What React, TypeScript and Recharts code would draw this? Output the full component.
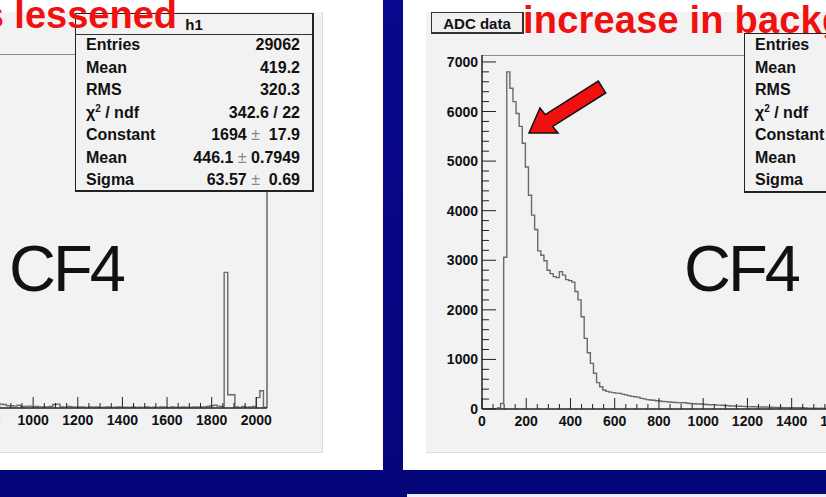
import React from 'react'
import { LineChart, Line, XAxis, YAxis, ReferenceArea } from 'recharts'

const FONT = '"Liberation Sans", Arial, Helvetica, sans-serif'

// left pad: only the top end of the spectrum is on the slide
const leftBinStart = 832
const leftBinWidth = 16
const leftCounts = [
  15, 20, 18, 12, 12, 10, 14, 8, 8, 10,
  6, 8, 6, 5, 6, 8, 18, 20, 6, 4,
  8, 5, 4, 6, 5, 3, 6, 4, 5, 3,
  4, 6, 3, 4, 5, 3, 4, 3, 5, 3,
  4, 3, 5, 3, 4, 3, 6, 4, 3, 5,
  4, 3, 5, 4, 3, 6, 4, 5, 6, 8,
  12, 14, 10, 8, 709, 69, 69, 5, 3, 8,
  4, 6, 8, 54, 90, 4,
]
const leftYMax = 1850

// right pad: ADC data
const rightBinWidth = 14
const rightCounts = [
  0, 0, 0, 0, 0, 20, 110, 3060, 6800, 6470,
  6200, 5960, 5700, 5360, 4880, 4310, 3910, 3620, 3190, 3100,
  2990, 2800, 2730, 2670, 2650, 2770, 2700, 2610, 2590, 2560,
  2370, 2200, 1860, 1425, 1136, 921, 720, 531, 450, 383,
  355, 340, 330, 320, 316, 300, 285, 270, 255, 248,
  240, 215, 205, 190, 181, 175, 165, 160, 150, 148,
  140, 135, 130, 128, 125, 128, 115, 110, 105, 100,
  100, 95, 90, 85, 88, 80, 78, 75, 70, 65,
  62, 60, 58, 55, 52, 48, 47, 45, 44, 42,
  40, 40, 38, 35, 33, 30, 30, 27, 28, 26,
  27, 25, 27, 24, 20, 18, 16, 15, 13, 14, 12, 12,
]
const rightYMax = 7140
const xMax = 2048

const xMajorTicks = [0, 200, 400, 600, 800, 1000, 1200, 1400, 1600, 1800, 2000]

const statLabels = ['Entries', 'Mean', 'RMS', 'chi2', 'Constant', 'Mean', 'Sigma']
const leftStatValues = ['29062', '419.2', '320.3', '342.6 / 22', '1694 ±  17.9', '446.1 ± 0.7949', '63.57 ±  0.69']

const xTicks: number[] = []
for (let v = 0; v <= 2000; v += 50) xTicks.push(v)
const yTicksRight: number[] = []
for (let v = 0; v <= 7000; v += 200) yTicksRight.push(v)
const yTicksLeft: number[] = []
for (let v = 0; v <= 1800; v += 200) yTicksLeft.push(v)

function toSteps(counts: number[], start: number, width: number) {
  const pts = counts.map((c, i) => ({ x: start + i * width, y: c }))
  pts.push({ x: start + counts.length * width, y: counts[counts.length - 1] })
  return pts
}

const leftData = toSteps(leftCounts, leftBinStart, leftBinWidth)
const rightData = toSteps(rightCounts, 0, rightBinWidth)

function XTick(props: any) {
  const { x, y, payload } = props
  const v = payload.value
  const major = xMajorTicks.includes(v)
  return (
    <g>
      <line x1={x} x2={x} y1={y} y2={y - (major ? 11 : 5)} stroke="#222" />
      {major && (
        <text x={x} y={y + 17} textAnchor="middle" fontFamily={FONT} fontWeight="bold" fontSize={14} fill="#111">
          {v}
        </text>
      )}
    </g>
  )
}

function YTick(props: any) {
  const { x, y, payload } = props
  const v = payload.value
  const major = v % 1000 === 0
  return (
    <g>
      <line x1={x} x2={x + (major ? 14 : 7)} y1={y} y2={y} stroke="#222" />
      {major && (
        <text x={x - 4} y={y + 5} textAnchor="end" fontFamily={FONT} fontWeight="bold" fontSize={14} fill="#111">
          {v}
        </text>
      )}
    </g>
  )
}

function Histo({ data, yMax, yTicks, left, top, width }: any) {
  return (
    <div style={{ position: 'absolute', left, top }}>
      <LineChart width={width + 30} height={394} data={data} margin={{ top: 0, right: 30, bottom: 0, left: 0 }}>
        <XAxis
          dataKey="x"
          type="number"
          domain={[0, xMax]}
          allowDataOverflow
          ticks={xTicks}
          interval={0}
          height={40}
          tickSize={0}
          tickMargin={0}
          tickLine={false}
          axisLine={{ stroke: '#222' }}
          tick={<XTick />}
        />
        <YAxis
          type="number"
          domain={[0, yMax]}
          allowDataOverflow
          ticks={yTicks}
          interval={0}
          width={50}
          tickSize={0}
          tickMargin={0}
          tickLine={false}
          axisLine={{ stroke: '#222' }}
          tick={<YTick />}
        />
        <ReferenceArea x1={0} x2={xMax} y1={0} y2={yMax} fill="none" stroke="#222" ifOverflow="visible" />
        <Line type="stepAfter" dataKey="y" stroke="#6a6a6a" strokeWidth={1.4} dot={false} isAnimationActive={false} />
      </LineChart>
    </div>
  )
}

function Label({ text }: { text: string }) {
  if (text === 'chi2')
    return (
      <span>
        χ<span style={{ fontSize: 10, position: 'relative', top: -6 }}>2</span> / ndf
      </span>
    )
  return <span>{text}</span>
}

function Value({ text }: { text: string }) {
  const parts = text.split('±')
  if (parts.length === 1) return <span>{text}</span>
  return (
    <span style={{ whiteSpace: 'pre' }}>
      {parts[0]}
      <span style={{ color: '#888', fontWeight: 'normal' }}>±</span>
      {parts[1]}
    </span>
  )
}

function StatRows({ left, width, values }: { left: number; width: number; values?: string[] }) {
  return (
    <>
      {statLabels.map((lab, i) => (
        <div
          key={i}
          style={{
            position: 'absolute',
            left,
            width,
            top: 37 + i * 22.5,
            height: 16,
            display: 'flex',
            justifyContent: 'space-between',
            font: `bold 16px ${FONT}`,
            lineHeight: '16px',
            color: '#111',
            whiteSpace: 'nowrap',
          }}
        >
          <Label text={lab} />
          {values && <Value text={values[i]} />}
        </div>
      ))}
    </>
  )
}

const abs = (s: React.CSSProperties): React.CSSProperties => ({ position: 'absolute', ...s })

export default function App() {
  return (
    <div
      style={abs({
        left: 0,
        top: 0,
        width: 826,
        height: 497,
        overflow: 'hidden',
        background: 'linear-gradient(180deg, #08088e, #05057a)',
        fontFamily: FONT,
      })}
    >
      {/* white slide panels */}
      <div style={abs({ left: -20, top: -10, width: 403, height: 480, background: '#fff' })} />
      <div style={abs({ left: 403, top: -10, width: 440, height: 480, background: '#fff' })} />
      <div style={abs({ left: 407, top: 494, width: 430, height: 3, background: '#eef' })} />

      {/* ROOT canvases */}
      <div style={abs({ left: -20, top: 12, width: 342, height: 440, background: '#f2f2f2', borderRight: '1px solid #dcdcdc', borderBottom: '1px solid #dcdcdc' })} />
      <div style={abs({ left: 426, top: 12, width: 420, height: 440, background: '#f2f2f2', borderBottom: '1px solid #dcdcdc' })} />

      <Histo data={leftData} yMax={leftYMax} yTicks={yTicksLeft} left={-240} top={54} width={507} />
      <Histo data={rightData} yMax={rightYMax} yTicks={yTicksRight} left={432} top={55} width={503} />

      <div style={abs({ left: 9, top: 236, font: `65px ${FONT}`, lineHeight: '65px', letterSpacing: -3, color: '#111' })}>CF4</div>
      <div style={abs({ left: 684, top: 236, font: `65px ${FONT}`, lineHeight: '65px', letterSpacing: -3, color: '#111' })}>CF4</div>

      {/* stats boxes */}
      <div style={abs({ left: 75, top: 13, width: 236, height: 176, background: '#f2f2f2', border: '1px solid #222', borderRightWidth: 2, borderBottomWidth: 2 })}>
        <div style={{ height: 20, borderBottom: '1px solid #333', textAlign: 'center', font: `bold 15px ${FONT}`, lineHeight: '22px', color: '#111' }}>h1</div>
      </div>
      <StatRows left={86} width={214} values={leftStatValues} />

      <div style={abs({ left: 744, top: 33, width: 120, height: 157, background: '#f2f2f2', border: '1px solid #222', borderBottomWidth: 2 })} />
      <StatRows left={755} width={80} />

      <div style={abs({ left: 431, top: 12, width: 90, height: 19, background: '#f0f0f0', border: '1px solid #333', borderRightWidth: 2, borderBottomWidth: 2, textAlign: 'center', font: `bold 15px ${FONT}`, lineHeight: '21px', color: '#111' })}>
        ADC data
      </div>

      {/* slide titles */}
      <div style={abs({ left: -223, width: 400, top: -4, textAlign: 'right', font: `bold 38px ${FONT}`, lineHeight: '38px', color: '#f01010', whiteSpace: 'nowrap' })}>
        is lessened
      </div>
      <div style={abs({ left: 523, top: 1, font: `bold 38px ${FONT}`, lineHeight: '38px', letterSpacing: 0.2, color: '#f01010', whiteSpace: 'nowrap' })}>
        increase in background
      </div>

      <svg width={826} height={497} style={abs({ left: 0, top: 0 })}>
        <polygon
          points="529,133 540,108 545.3,114.6 598.3,81.1 605.7,92.9 552.7,126.4 558,133"
          fill="#f01010"
          stroke="#111"
          strokeWidth={1.5}
          strokeLinejoin="miter"
        />
      </svg>
    </div>
  )
}
